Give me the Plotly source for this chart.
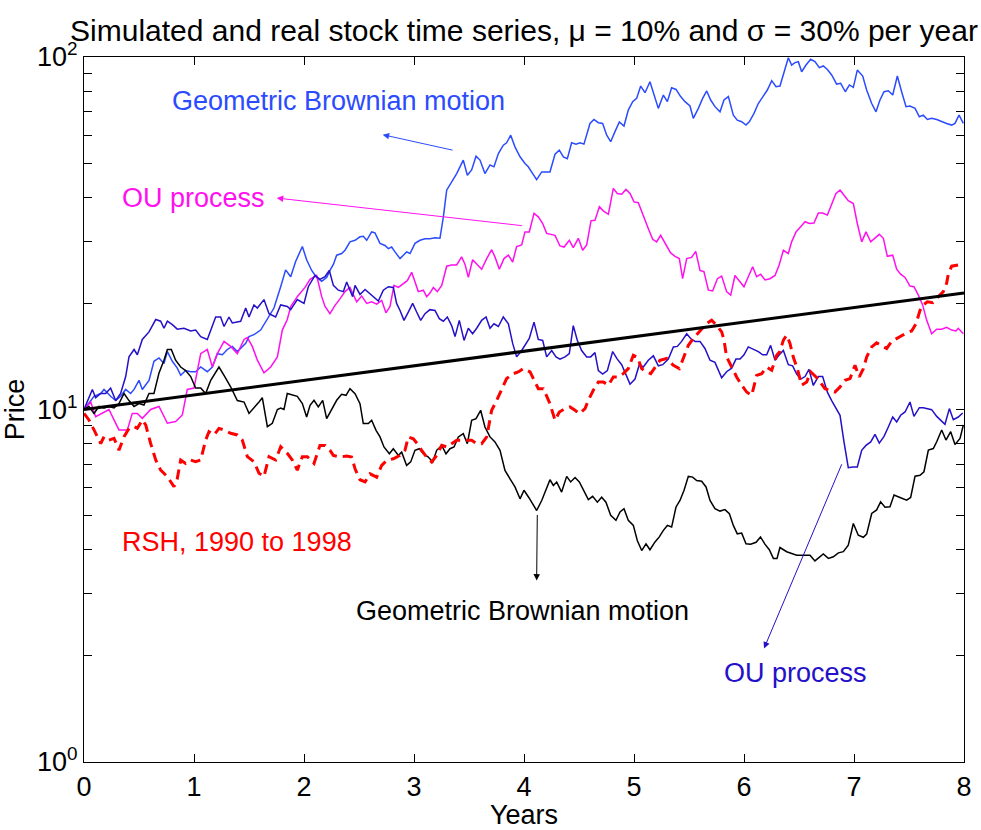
import math
import plotly.graph_objects as go

# ---------------------------------------------------------------
# values (time in years, price)
# ---------------------------------------------------------------

# Geometric Brownian motion, upper path (light blue)
gbm_up_t = [0, 0.091, 0.152, 0.182, 0.242, 0.288, 0.333, 0.379, 0.424, 0.455, 0.500, 0.530,
            0.591, 0.636, 0.682, 0.727, 0.758, 0.803, 0.848, 0.879, 0.924, 0.970, 1.015, 1.061,
            1.121, 1.167, 1.212, 1.258, 1.303, 1.348, 1.394, 1.470, 1.500, 1.545, 1.606, 1.667,
            1.727, 1.788, 1.833, 1.879, 1.924, 1.985, 2.024, 2.070, 2.115, 2.161, 2.206, 2.236,
            2.267, 2.297, 2.342, 2.373, 2.418, 2.464, 2.509, 2.539, 2.570, 2.615, 2.645, 2.691,
            2.736, 2.767, 2.797, 2.827, 2.873, 2.903, 2.933, 2.964, 3.009, 3.055, 3.100, 3.145,
            3.191, 3.236, 3.267, 3.297, 3.342, 3.388, 3.448, 3.485, 3.524, 3.564, 3.600, 3.645,
            3.691, 3.727, 3.767, 3.812, 3.842, 3.879, 3.918, 3.964, 4.009, 4.039, 4.079, 4.115,
            4.161, 4.236, 4.282, 4.321, 4.358, 4.394, 4.433, 4.473, 4.509, 4.545, 4.600, 4.636,
            4.676, 4.715, 4.752, 4.788, 4.827, 4.867, 4.909, 4.948, 4.988, 5.024, 5.061, 5.100,
            5.145, 5.182, 5.221, 5.267, 5.303, 5.342, 5.382, 5.424, 5.464, 5.509, 5.539, 5.585,
            5.624, 5.661, 5.697, 5.736, 5.782, 5.818, 5.858, 5.903, 5.939, 5.979, 6.018, 6.048,
            6.091, 6.130, 6.176, 6.212, 6.252, 6.291, 6.327, 6.373, 6.403, 6.433, 6.464, 6.494,
            6.524, 6.564, 6.606, 6.645, 6.685, 6.721, 6.758, 6.797, 6.842, 6.879, 6.921, 6.958,
            6.994, 7.030, 7.079, 7.115, 7.161, 7.200, 7.236, 7.273, 7.312, 7.352, 7.394, 7.433,
            7.473, 7.509, 7.555, 7.594, 7.630, 7.667, 7.706, 7.752, 7.797, 7.842, 7.888, 7.918,
            7.955, 7.994]
gbm_up_v = [10.0, 10.9, 11.1, 11.4, 10.9, 10.6, 10.9, 11.4, 11.1, 11.4, 12.1, 11.4,
            12.1, 13.7, 14.0, 13.5, 14.6, 13.7, 13.1, 12.5, 12.9, 12.8, 12.8, 13.2,
            12.8, 13.2, 14.4, 14.3, 14.8, 15.1, 14.6, 15.4, 16.1, 16.3, 16.8, 18.0,
            19.4, 22.3, 24.9, 23.8, 26.3, 29.0, 26.6, 24.8, 23.7, 23.1, 23.7, 24.8,
            25.8, 27.4, 27.7, 28.3, 29.9, 30.2, 30.9, 31.0, 30.2, 31.9, 31.7, 29.6,
            29.2, 28.6, 28.9, 28.0, 26.8, 27.4, 28.0, 27.7, 29.6, 30.2, 30.5, 30.5,
            30.7, 30.6, 35.2, 41.9, 44.3, 46.7, 51.0, 46.2, 47.8, 52.3, 51.0, 46.7,
            49.4, 48.8, 53.2, 56.2, 57.1, 60.0, 55.6, 52.1, 49.9, 48.8, 46.7, 44.9,
            47.2, 47.2, 53.0, 54.4, 52.1, 51.5, 57.1, 56.6, 57.1, 56.6, 64.8, 66.5,
            65.1, 64.8, 60.0, 57.5, 61.4, 65.4, 63.7, 70.7, 74.7, 76.3, 82.7, 79.2,
            85.1, 78.0, 71.5, 78.0, 74.7, 81.8, 80.9, 77.2, 74.7, 72.6, 67.0, 71.5,
            76.3, 80.1, 75.5, 72.3, 69.9, 75.5, 77.2, 68.4, 66.2, 65.5, 64.1, 65.5,
            69.2, 73.8, 77.2, 80.6, 85.7, 82.4, 82.7, 91.8, 99.5, 94.9, 96.4, 97.0,
            90.8, 94.9, 98.5, 97.0, 93.3, 94.3, 92.2, 88.9, 83.8, 84.2, 79.7, 83.3,
            82.0, 91.8, 88.3, 80.6, 73.8, 69.9, 75.5, 79.7, 80.2, 78.0, 88.3, 79.7,
            72.3, 72.6, 71.5, 67.7, 68.4, 66.5, 67.0, 66.5, 65.5, 64.8, 64.1, 64.8,
            68.4, 64.8]

# OU process, upper path (magenta)
ou_up_t = [0, 0.061, 0.106, 0.167, 0.227, 0.273, 0.318, 0.394, 0.439, 0.485, 0.530, 0.606,
           0.682, 0.758, 0.833, 0.894, 0.939, 1.000, 1.061, 1.121, 1.167, 1.212, 1.273, 1.333,
           1.394, 1.455, 1.485, 1.530, 1.576, 1.636, 1.697, 1.758, 1.803, 1.848, 1.879, 1.939,
           2.009, 2.055, 2.115, 2.161, 2.191, 2.236, 2.282, 2.327, 2.373, 2.418, 2.448, 2.479,
           2.524, 2.570, 2.615, 2.661, 2.706, 2.745, 2.782, 2.818, 2.858, 2.903, 2.939, 2.979,
           3.009, 3.039, 3.085, 3.115, 3.145, 3.176, 3.212, 3.252, 3.297, 3.342, 3.388, 3.433,
           3.464, 3.494, 3.533, 3.570, 3.615, 3.661, 3.706, 3.736, 3.776, 3.818, 3.858, 3.897,
           3.933, 3.979, 4.009, 4.048, 4.091, 4.130, 4.170, 4.206, 4.252, 4.282, 4.327, 4.364,
           4.412, 4.448, 4.494, 4.533, 4.570, 4.609, 4.645, 4.685, 4.721, 4.767, 4.812, 4.848,
           4.888, 4.927, 4.964, 5.000, 5.039, 5.085, 5.130, 5.170, 5.206, 5.242, 5.291, 5.333,
           5.373, 5.412, 5.442, 5.479, 5.524, 5.561, 5.600, 5.636, 5.676, 5.715, 5.758, 5.797,
           5.842, 5.879, 5.918, 5.964, 6.000, 6.039, 6.079, 6.115, 6.152, 6.191, 6.236, 6.282,
           6.321, 6.358, 6.403, 6.433, 6.473, 6.515, 6.555, 6.594, 6.636, 6.676, 6.715, 6.758,
           6.797, 6.836, 6.873, 6.909, 6.948, 6.994, 7.030, 7.070, 7.109, 7.152, 7.191, 7.230,
           7.267, 7.303, 7.352, 7.388, 7.424, 7.464, 7.509, 7.545, 7.585, 7.624, 7.661, 7.706,
           7.752, 7.797, 7.842, 7.888, 7.927, 7.948, 7.994]
ou_up_v = [10.0, 10.5, 9.54, 9.75, 10.0, 9.34, 8.75, 8.75, 9.75, 9.75, 9.44, 10.0,
           10.2, 9.14, 9.24, 9.65, 11.4, 11.5, 14.4, 14.8, 13.2, 14.4, 15.6, 15.1,
           14.4, 15.8, 16.0, 15.1, 13.8, 12.7, 13.2, 14.1, 16.8, 18.0, 19.6, 20.9,
           22.2, 23.4, 24.0, 20.9, 19.6, 18.7, 19.75, 20.6, 21.6, 22.2, 21.1, 20.2,
           21.0, 20.0, 20.2, 19.9, 20.4, 18.8, 19.6, 22.5, 22.2, 22.7, 23.2, 24.5,
           22.9, 21.6, 21.8, 20.9, 21.4, 22.2, 21.6, 22.5, 25.5, 25.7, 25.7, 27.1,
           25.8, 23.7, 26.6, 25.8, 25.0, 26.8, 28.4, 27.1, 25.0, 26.8, 27.4, 26.2,
           29.0, 29.3, 31.9, 31.9, 36.0, 35.2, 33.7, 31.6, 31.4, 31.2, 29.1, 28.9,
           30.2, 28.8, 30.6, 28.3, 29.3, 34.3, 34.4, 37.6, 36.6, 35.8, 42.4, 41.0,
           40.8, 42.1, 41.0, 38.8, 38.6, 35.2, 32.6, 30.4, 29.9, 31.2, 29.3, 27.8,
           27.2, 26.8, 23.5, 26.8, 27.0, 28.1, 24.8, 24.6, 21.8, 21.7, 23.5, 23.9,
           21.6, 21.1, 24.0, 23.0, 22.3, 23.8, 25.4, 23.8, 24.2, 23.3, 23.5, 24.0,
           25.8, 28.3, 27.7, 29.9, 31.9, 33.0, 34.1, 33.7, 33.8, 36.1, 36.1, 35.6,
           38.4, 41.0, 41.9, 40.6, 39.1, 38.4, 33.7, 29.9, 31.9, 29.9, 30.6, 31.4,
           30.6, 27.2, 27.4, 25.0, 24.2, 23.7, 22.4, 22.3, 21.1, 19.8, 17.9, 16.4,
           16.9, 16.9, 17.1, 16.8, 16.7, 17.0, 16.4]

# OU process, lower path (dark blue)
ou_lo_t = [0, 0.076, 0.106, 0.152, 0.197, 0.242, 0.288, 0.333, 0.379, 0.409, 0.455, 0.485,
           0.530, 0.591, 0.652, 0.697, 0.727, 0.758, 0.803, 0.848, 0.909, 0.970, 1.015, 1.061,
           1.121, 1.197, 1.242, 1.273, 1.318, 1.348, 1.424, 1.470, 1.500, 1.545, 1.576, 1.636,
           1.682, 1.742, 1.788, 1.848, 1.879, 1.939, 2.000, 2.039, 2.100, 2.145, 2.191, 2.230,
           2.267, 2.312, 2.358, 2.388, 2.418, 2.442, 2.464, 2.509, 2.555, 2.600, 2.645, 2.676,
           2.721, 2.767, 2.812, 2.842, 2.873, 2.909, 2.948, 2.988, 3.024, 3.061, 3.100, 3.145,
           3.191, 3.230, 3.267, 3.303, 3.342, 3.373, 3.412, 3.455, 3.494, 3.533, 3.570, 3.615,
           3.655, 3.691, 3.727, 3.767, 3.812, 3.858, 3.897, 3.933, 3.979, 4.024, 4.048, 4.091,
           4.130, 4.170, 4.206, 4.252, 4.291, 4.327, 4.373, 4.412, 4.448, 4.485, 4.524, 4.570,
           4.606, 4.645, 4.676, 4.715, 4.758, 4.806, 4.848, 4.888, 4.927, 4.964, 5.009, 5.048,
           5.085, 5.130, 5.176, 5.221, 5.261, 5.312, 5.358, 5.394, 5.433, 5.479, 5.515, 5.555,
           5.600, 5.645, 5.691, 5.736, 5.797, 5.842, 5.888, 5.927, 5.964, 6.000, 6.039, 6.085,
           6.130, 6.170, 6.206, 6.242, 6.282, 6.321, 6.358, 6.403, 6.442, 6.479, 6.515, 6.555,
           6.591, 6.630, 6.676, 6.715, 6.758, 6.797, 6.836, 6.873, 6.909, 6.948, 6.988, 7.030,
           7.070, 7.109, 7.152, 7.191, 7.230, 7.273, 7.312, 7.352, 7.388, 7.424, 7.464, 7.509,
           7.545, 7.594, 7.630, 7.667, 7.706, 7.752, 7.788, 7.827, 7.867, 7.903, 7.948, 7.988]
ou_lo_v = [10.0, 11.4, 10.8, 11.1, 11.1, 11.5, 10.6, 11.1, 12.4, 14.1, 14.8, 14.3,
           15.8, 16.6, 18.0, 17.8, 17.0, 17.8, 17.4, 16.9, 17.0, 16.7, 16.8, 16.1,
           15.8, 18.3, 18.3, 17.2, 18.3, 17.6, 17.8, 19.4, 18.3, 19.8, 19.4, 20.5,
           18.7, 18.3, 19.8, 19.6, 19.2, 20.5, 20.0, 22.3, 24.0, 23.4, 23.8, 24.8,
           22.5, 21.8, 21.6, 23.0, 21.8, 20.9, 22.5, 21.2, 21.9, 21.3, 20.8, 20.3,
           21.8, 22.3, 22.2, 20.0, 19.1, 17.9, 18.9, 20.0, 18.9, 17.9, 18.7, 19.2,
           19.1, 18.1, 17.8, 18.3, 17.3, 16.1, 17.9, 15.7, 17.0, 16.4, 17.0, 17.9,
           18.3, 17.0, 17.5, 17.2, 18.3, 17.5, 15.4, 14.1, 14.7, 15.4, 15.9, 17.7,
           15.8, 15.7, 14.1, 14.7, 14.1, 13.9, 14.1, 14.4, 17.3, 15.7, 14.7, 14.1,
           14.1, 14.5, 12.9, 12.6, 12.9, 14.6, 13.9, 13.4, 12.6, 11.8, 12.2, 13.4,
           13.2, 13.8, 14.2, 13.3, 13.4, 13.9, 15.05, 15.1, 15.6, 16.4, 15.9, 15.6,
           15.6, 14.9, 13.8, 13.6, 12.3, 12.8, 13.1, 13.9, 13.9, 14.3, 15.05, 14.8,
           14.6, 14.3, 14.3, 15.2, 13.8, 14.3, 14.7, 13.4, 13.3, 12.6, 12.2, 12.4,
           13.0, 11.7, 12.4, 12.4, 11.2, 10.6, 10.06, 9.63, 8.09, 6.84, 6.87, 6.87,
           7.66, 7.91, 8.09, 8.50, 8.03, 8.39, 8.92, 9.52, 9.22, 9.63, 9.84, 10.5,
           9.56, 10.12, 10.12, 10.06, 9.99, 9.56, 9.32, 9.08, 10.06, 9.36, 9.52, 9.77]

# Geometric Brownian motion, lower path (black)
gbm_lo_t = [0, 0.045, 0.091, 0.136, 0.182, 0.227, 0.273, 0.318, 0.364, 0.409, 0.455, 0.500,
            0.545, 0.591, 0.636, 0.682, 0.727, 0.758, 0.794, 0.833, 0.879, 0.924, 0.970, 1.015,
            1.061, 1.106, 1.152, 1.197, 1.227, 1.273, 1.333, 1.394, 1.455, 1.500, 1.545, 1.591,
            1.621, 1.667, 1.712, 1.758, 1.788, 1.818, 1.848, 1.894, 1.939, 1.985, 2.024, 2.055,
            2.091, 2.130, 2.170, 2.206, 2.252, 2.297, 2.342, 2.382, 2.418, 2.464, 2.509, 2.539,
            2.585, 2.615, 2.655, 2.691, 2.727, 2.776, 2.812, 2.858, 2.888, 2.933, 2.970, 3.009,
            3.048, 3.085, 3.130, 3.170, 3.206, 3.252, 3.291, 3.327, 3.364, 3.403, 3.448, 3.485,
            3.524, 3.564, 3.606, 3.645, 3.691, 3.736, 3.782, 3.827, 3.873, 3.918, 3.964, 4.000,
            4.045, 4.079, 4.115, 4.161, 4.200, 4.236, 4.267, 4.297, 4.342, 4.388, 4.424, 4.464,
            4.503, 4.539, 4.585, 4.624, 4.667, 4.706, 4.745, 4.788, 4.836, 4.873, 4.909, 4.948,
            4.994, 5.030, 5.070, 5.109, 5.145, 5.191, 5.230, 5.267, 5.303, 5.342, 5.382, 5.418,
            5.455, 5.494, 5.533, 5.570, 5.615, 5.655, 5.691, 5.736, 5.782, 5.827, 5.867, 5.903,
            5.939, 5.979, 6.018, 6.060, 6.110, 6.150, 6.190, 6.230, 6.267, 6.300, 6.327, 6.388,
            6.479, 6.600, 6.645, 6.721, 6.767, 6.812, 6.858, 6.903, 6.948, 6.994, 7.039, 7.085,
            7.115, 7.161, 7.206, 7.242, 7.282, 7.327, 7.364, 7.418, 7.479, 7.515, 7.555, 7.600,
            7.636, 7.676, 7.721, 7.752, 7.797, 7.836, 7.879, 7.918, 7.964, 7.994]
gbm_lo_v = [10.0, 10.2, 9.75, 10.2, 10.1, 10.2, 10.1, 10.4, 11.1, 10.6, 10.2, 10.4,
            10.3, 11.1, 11.1, 12.7, 13.8, 14.8, 14.8, 13.8, 13.2, 12.9, 12.4, 11.5,
            11.5, 11.1, 12.1, 12.8, 13.2, 12.5, 11.6, 10.6, 10.5, 9.75, 10.1, 10.5,
            10.8, 8.94, 9.14, 10.0, 10.1, 10.0, 11.1, 11.0, 10.9, 10.4, 9.52, 10.28,
            10.62, 10.17, 10.62, 9.42, 10.06, 10.62, 11.04, 10.97, 11.46, 11.09, 10.39, 9.12,
            9.12, 9.32, 8.73, 8.36, 7.83, 7.49, 7.74, 7.41, 7.57, 6.94, 7.10, 7.66,
            7.74, 7.49, 7.33, 7.10, 7.66, 7.91, 7.49, 7.74, 7.83, 8.36, 8.54, 8.00,
            9.32, 9.42, 9.95, 8.92, 8.36, 8.09, 7.66, 6.72, 6.36, 6.03, 5.58, 5.90,
            5.62, 5.40, 5.17, 5.52, 5.96, 6.32, 6.09, 6.23, 5.83, 6.46, 6.23, 6.41,
            6.23, 5.90, 5.55, 5.67, 5.46, 5.64, 5.46, 5.01, 4.85, 5.12, 5.23, 4.85,
            4.69, 4.25, 3.98, 4.16, 4.00, 4.21, 4.35, 4.54, 4.69, 4.64, 5.29, 5.52,
            5.90, 6.46, 6.43, 6.29, 6.26, 6.03, 5.52, 5.23, 5.15, 5.20, 5.06, 4.69,
            4.44, 4.46, 4.16, 4.15, 4.20, 4.35, 4.15, 4.00, 3.78, 3.78, 4.06, 3.95,
            3.86, 3.86, 3.72, 3.89, 3.78, 3.82, 3.92, 3.95, 4.12, 4.75, 4.40, 4.34,
            4.43, 5.07, 5.19, 5.47, 5.28, 5.30, 5.72, 5.63, 5.53, 5.63, 6.47, 6.51,
            6.66, 7.67, 7.75, 8.10, 8.75, 8.19, 8.65, 7.96, 8.28, 9.04]

# RSH share price, 1990 to 1998 (red dashed)
rsh_t = [0, 0.045, 0.091, 0.152, 0.182, 0.227, 0.273, 0.318, 0.364, 0.409, 0.455, 0.485,
         0.530, 0.561, 0.606, 0.652, 0.697, 0.758, 0.818, 0.848, 0.879, 0.924, 0.970, 1.015,
         1.061, 1.106, 1.136, 1.182, 1.227, 1.273, 1.333, 1.394, 1.439, 1.485, 1.545, 1.591,
         1.636, 1.682, 1.742, 1.788, 1.848, 1.894, 1.939, 1.985, 2.030, 2.091, 2.145, 2.191,
         2.236, 2.267, 2.327, 2.388, 2.433, 2.464, 2.509, 2.555, 2.600, 2.661, 2.706, 2.752,
         2.812, 2.873, 2.918, 2.948, 2.994, 3.030, 3.070, 3.115, 3.161, 3.206, 3.252, 3.297,
         3.342, 3.388, 3.433, 3.479, 3.524, 3.570, 3.615, 3.661, 3.706, 3.752, 3.797, 3.842,
         3.903, 3.948, 3.994, 4.055, 4.100, 4.130, 4.176, 4.236, 4.282, 4.321, 4.373, 4.418,
         4.464, 4.503, 4.555, 4.585, 4.630, 4.676, 4.721, 4.767, 4.812, 4.858, 4.903, 4.948,
         4.994, 5.030, 5.070, 5.109, 5.152, 5.191, 5.236, 5.297, 5.358, 5.412, 5.455, 5.494,
         5.539, 5.585, 5.624, 5.661, 5.706, 5.752, 5.797, 5.818, 5.842, 5.888, 5.933, 5.979,
         6.024, 6.070, 6.115, 6.161, 6.206, 6.252, 6.297, 6.327, 6.358, 6.388, 6.418, 6.448,
         6.485, 6.524, 6.570, 6.606, 6.655, 6.691, 6.736, 6.776, 6.827, 6.873, 6.918, 6.964,
         7.009, 7.048, 7.085, 7.115, 7.161, 7.206, 7.252, 7.297, 7.342, 7.388, 7.433, 7.479,
         7.524, 7.564, 7.600, 7.630, 7.667, 7.715, 7.767, 7.812, 7.842, 7.858, 7.888, 7.948]
rsh_v = [9.75, 9.34, 8.75, 8.01, 8.37, 8.19, 8.28, 7.67, 8.37, 8.84, 8.94, 8.84,
         9.34, 9.04, 8.01, 7.19, 6.73, 6.45, 6.04, 6.37, 7.19, 7.03, 7.19, 7.11,
         7.19, 8.19, 8.65, 8.47, 8.84, 8.75, 8.56, 8.47, 8.19, 7.35, 7.11, 6.59,
         6.45, 7.35, 7.19, 7.84, 7.51, 7.19, 6.73, 7.35, 7.35, 7.03, 7.91, 7.91,
         7.66, 7.41, 7.33, 7.38, 7.33, 6.79, 6.32, 6.23, 6.57, 6.43, 6.94, 7.17,
         7.25, 7.41, 7.66, 8.36, 8.26, 8.00, 7.66, 7.33, 7.10, 7.41, 7.91, 7.83,
         8.00, 8.18, 8.18, 8.18, 8.18, 8.00, 8.00, 8.36, 9.95, 10.62, 11.34, 12.24,
         12.64, 12.78, 13.06, 12.78, 11.97, 11.46, 11.46, 10.39, 9.32, 9.84, 10.06, 10.17,
         9.95, 9.73, 10.06, 10.62, 11.34, 11.97, 11.97, 11.72, 12.37, 12.37, 12.64, 13.06,
         14.25, 14.09, 13.06, 12.78, 12.64, 13.20, 13.79, 13.95, 13.35, 13.06, 14.25, 15.21,
         15.91, 16.45, 17.03, 17.52, 17.92, 17.33, 16.60, 15.74, 14.09, 13.20, 12.37, 11.72,
         11.21, 10.97, 12.50, 12.64, 13.20, 12.92, 14.25, 14.60, 15.74, 16.24, 15.40, 14.09,
         13.06, 11.72, 11.97, 12.78, 12.37, 11.97, 11.46, 11.34, 11.21, 11.59, 12.10, 12.24,
         13.35, 12.37, 13.06, 14.09, 15.05, 15.45, 15.21, 14.90, 15.60, 15.91, 16.24, 16.50,
         16.70, 17.52, 19.10, 19.80, 20.20, 20.10, 20.90, 21.60, 22.80, 24.30, 25.50, 25.70]

# expected growth, 10% per year from 10
trend_t = [0, 8]
trend_v = [10, 21.4]

year_ticks = [0, 1, 2, 3, 4, 5, 6, 7, 8]
price_major = [1, 10, 100]
price_labels = ["10<sup>0</sup>", "10<sup>1</sup>", "10<sup>2</sup>"]
price_minor = [2, 3, 4, 5, 6, 7, 8, 9, 20, 30, 40, 50, 60, 70, 80, 90]

# colours
C_GBM_UP = "#2B4BFF"
C_OU_UP = "#FF10EE"
C_OU_LO = "#2410C8"
C_GBM_LO = "#000000"
C_RSH = "#FF0000"

FONT = "Liberation Sans, Arial, Helvetica, sans-serif"

fig = go.Figure()

def add_line(t, v, color, width=1.5, dash="solid"):
    fig.add_trace(go.Scatter(x=t, y=v, mode="lines",
                             line=dict(color=color, width=width, dash=dash),
                             showlegend=False, hoverinfo="skip"))

add_line(gbm_up_t, gbm_up_v, C_GBM_UP)
add_line(ou_up_t, ou_up_v, C_OU_UP)
add_line(ou_lo_t, ou_lo_v, C_OU_LO)
add_line(gbm_lo_t, gbm_lo_v, C_GBM_LO)
add_line(rsh_t, rsh_v, C_RSH, width=3, dash="10px,6px")
add_line(trend_t, trend_v, "#000000", width=3)

# labels: (text, x, price, colour)
labels = [
    ("Geometric Brownian motion", 0.78, 75.2, C_GBM_UP),
    ("OU process", 0.327, 39.9, C_OU_UP),
    ("RSH, 1990 to 1998", 0.327, 4.21, C_RSH),
    ("Geometric Brownian motion", 2.4545, 2.68, C_GBM_LO),
    ("OU process", 5.797, 1.786, C_OU_LO),
]
for text, x, p, col in labels:
    fig.add_annotation(text=text, x=x, y=math.log10(p), xref="x", yref="y",
                       xanchor="left", yanchor="middle", showarrow=False,
                       font=dict(family=FONT, size=27, color=col))

# arrows: (tail x, tail price, head x, head price, colour)
arrows = [
    (3.364, 54.3, 2.715, 60.2, C_GBM_UP),
    (3.994, 33.2, 1.752, 39.8, C_OU_UP),
    (4.121, 5.07, 4.115, 3.27, C_GBM_LO),
    (6.894, 7.06, 6.182, 2.10, C_OU_LO),
]
for tx, tp, hx, hp, col in arrows:
    fig.add_annotation(text="", x=hx, y=math.log10(hp), ax=tx, ay=math.log10(tp),
                       xref="x", yref="y", axref="x", ayref="y",
                       showarrow=True, arrowhead=2, arrowsize=1.3, arrowwidth=1,
                       arrowcolor=col, standoff=0, startstandoff=0)

fig.update_layout(
    width=981, height=830,
    margin=dict(l=84, r=17, t=57, b=68, autoexpand=False),
    paper_bgcolor="white", plot_bgcolor="white",
    font=dict(family=FONT, size=27, color="black"),
    title=dict(text="Simulated and real stock time series, \u03bc = 10% and \u03c3 = 30% per year",
               x=0.5, xref="paper", xanchor="center",
               y=1 - 30 / 830, yref="container", yanchor="middle",
               font=dict(family=FONT, size=30, color="black")),
    xaxis=dict(range=[0, 8], tickvals=year_ticks, ticks="inside", ticklen=8,
               tickwidth=1, tickcolor="black", showline=True, linecolor="black",
               linewidth=1.2, mirror="ticks", showgrid=False, zeroline=False,
               automargin=False,
               title=dict(text="Years", standoff=2, font=dict(size=27))),
    yaxis=dict(type="log", range=[0, 2], tickvals=price_major, ticktext=price_labels,
               ticks="inside", ticklen=8, tickwidth=1, tickcolor="black",
               minor=dict(tickmode="array", tickvals=price_minor, ticks="inside",
                          ticklen=8, tickwidth=1, tickcolor="black", showgrid=False),
               showline=True, linecolor="black", linewidth=1.2, mirror="ticks",
               showgrid=False, zeroline=False, automargin=False,
               title=dict(text="Price", standoff=6, font=dict(size=27))),
)

fig.write_html("out.html", config={"displayModeBar": False},
               post_script="document.body.style.margin='0px';")
